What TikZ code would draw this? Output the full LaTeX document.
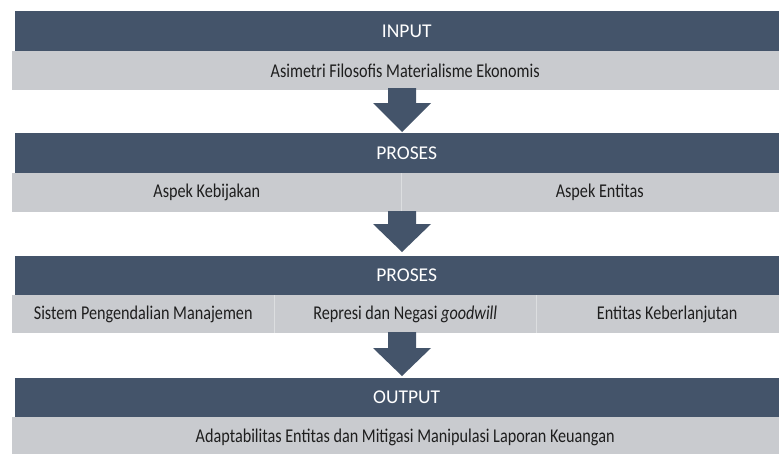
\documentclass[tikz,border=0pt]{standalone}
\usepackage{graphicx}
\usepackage{fontspec}
\setmainfont{Carlito}
\definecolor{bandc}{HTML}{44546A}
\definecolor{cellc}{HTML}{C9CBCF}
\definecolor{divc}{HTML}{DCDEE0}
\definecolor{txtc}{HTML}{1E1E1E}
\newcommand\sqz[1]{\scalebox{0.83}[1]{#1}}
\begin{document}
\begin{tikzpicture}[x=1pt,y=-1pt]
\tikzset{
  band/.style={fill=bandc, text=white, font=\fontsize{19.5}{22}\selectfont,
    minimum width=783pt, inner sep=0pt, anchor=north west},
  cell/.style={fill=cellc, text=txtc, font=\fontsize{19.5}{22}\selectfont,
    inner sep=0pt, anchor=north west},
  flow/.style={fill=bandc},
  divline/.style={draw=divc, line width=1pt}
}
\useasboundingbox (0,0) rectangle (779,453);
\clip (0,0) rectangle (779,453);
\fill[white] (0,0) rectangle (779,453);
% Band 1
\node[band, minimum height=40pt] (b1) at (15,11) {INPUT};
\node[cell, minimum width=786pt, minimum height=39pt] (c1) at (12,51) {\sqz{Asimetri Filosofis Materialisme Ekonomis}};
\fill[flow] (388,88) -- (416,88) -- (416,103) -- (431,103) -- (402,132) -- (373,103) -- (388,103) -- cycle;
% Band 2
\node[band, minimum height=40pt] (b2) at (15,133) {PROSES};
\node[cell, minimum width=389pt, minimum height=39pt] (c2a) at (12,173) {\sqz{Aspek Kebijakan}};
\node[cell, minimum width=397pt, minimum height=39pt] (c2b) at (401,173) {\sqz{Aspek Entitas}};
\draw[divline] (c2a.north east) -- (c2a.south east);
\fill[flow] (388,211) -- (416,211) -- (416,224) -- (431,224) -- (402,252) -- (373,224) -- (388,224) -- cycle;
% Band 3
\node[band, minimum height=39pt] (b3) at (15,256) {PROSES};
\node[cell, minimum width=262pt, minimum height=38pt] (c3a) at (12,295) {\sqz{Sistem Pengendalian Manajemen}};
\node[cell, minimum width=262pt, minimum height=38pt] (c3b) at (274,295) {\sqz{Represi dan Negasi \textit{goodwill}}};
\node[cell, minimum width=262pt, minimum height=38pt] (c3c) at (536,295) {\sqz{Entitas Keberlanjutan}};
\draw[divline] (c3a.north east) -- (c3a.south east);
\draw[divline] (c3b.north east) -- (c3b.south east);
\fill[flow] (388,332) -- (416,332) -- (416,348) -- (431,348) -- (402,376) -- (373,348) -- (388,348) -- cycle;
% Band 4
\node[band, minimum height=39pt] (b4) at (15,378) {OUTPUT};
\node[cell, minimum width=786pt, minimum height=40pt] (c4) at (12,417) {\sqz{Adaptabilitas Entitas dan Mitigasi Manipulasi Laporan Keuangan}};
\end{tikzpicture}
\end{document}
